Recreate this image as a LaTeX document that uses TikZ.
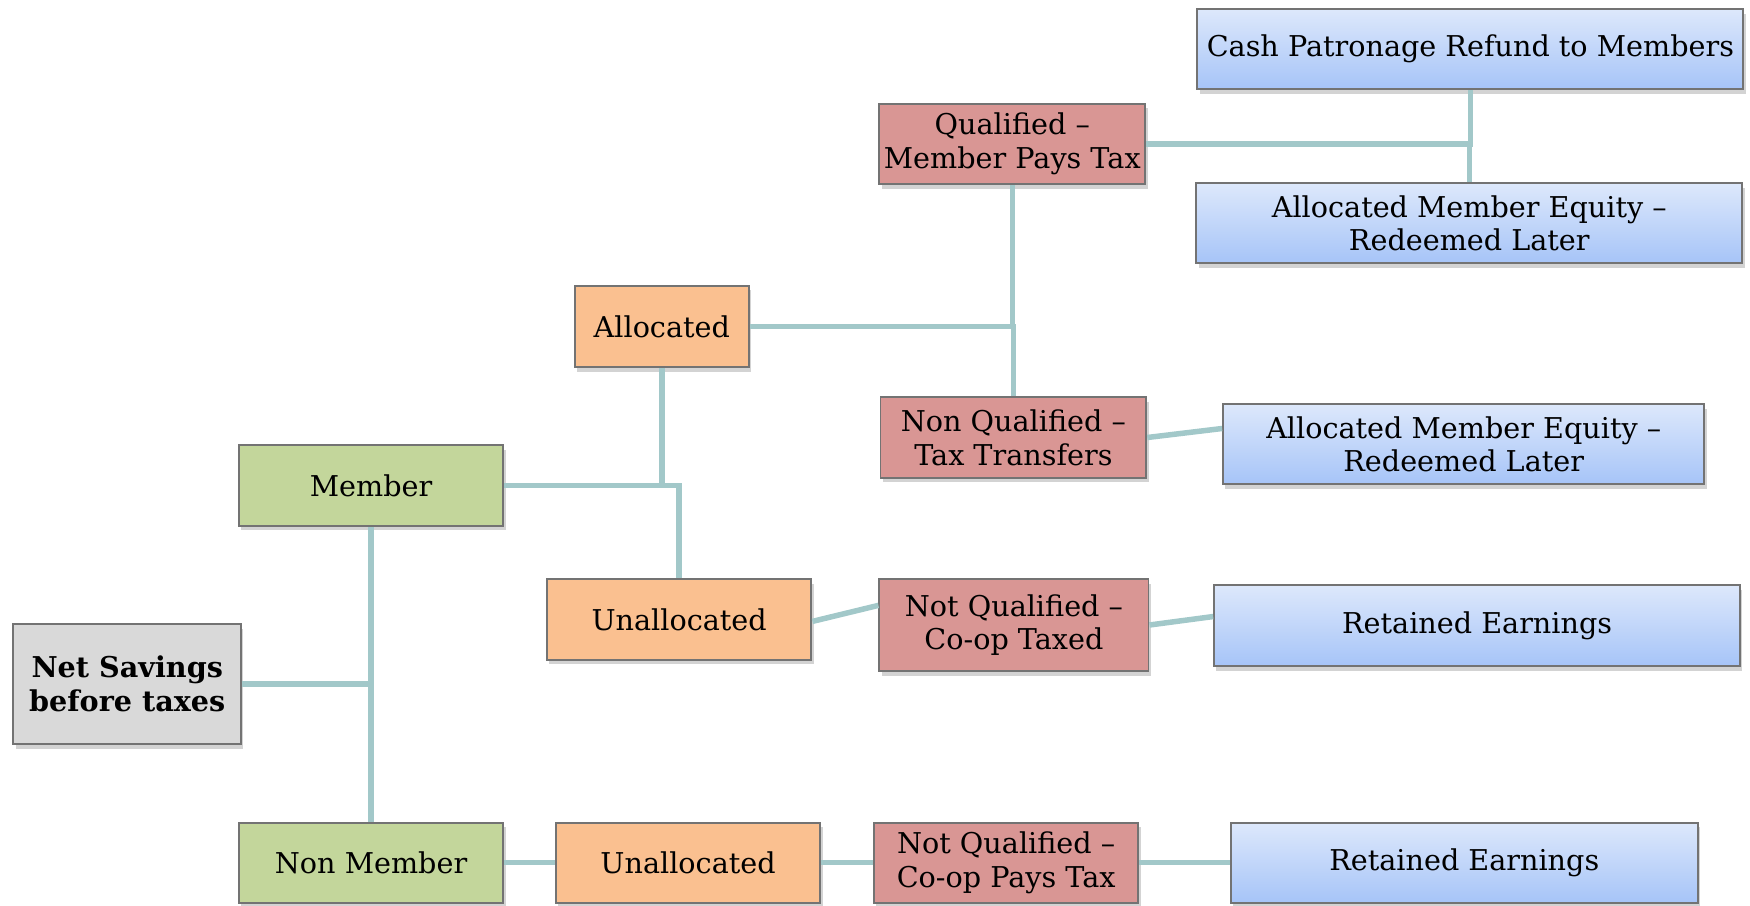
\documentclass[tikz,border=0pt]{standalone}
\usepackage{fontspec}
\setmainfont{DejaVu Serif}
\usetikzlibrary{shadows}
\definecolor{netgray}{HTML}{D9D9D9}
\definecolor{memgreen}{HTML}{C3D69B}
\definecolor{allocorange}{HTML}{FAC090}
\definecolor{qualred}{HTML}{D99694}
\definecolor{bluetop}{HTML}{DDE8FB}
\definecolor{bluebot}{HTML}{A6C4F8}
\definecolor{linkteal}{HTML}{A2C8C9}
\begin{document}
\begin{tikzpicture}[x=0.01cm, y=-0.01cm, thick,
    box/.style={rectangle, draw=black!55, line width=0.5pt, align=center, inner sep=1pt,
        minimum height=0.72cm, drop shadow={opacity=0.35, shadow xshift=0.6pt, shadow yshift=-1.2pt},
        font=\fontsize{7.3}{8.6}\selectfont},
    net box/.style={box, fill=netgray, font=\fontsize{7.3}{8.6}\selectfont\bfseries},
    member box/.style={box, fill=memgreen},
    alloc box/.style={box, fill=allocorange},
    tax box/.style={box, fill=qualred},
    result box/.style={box, top color=bluetop, bottom color=bluebot},
    link/.style={draw=linkteal, line width=1.4pt}]

    \useasboundingbox (0, 0) rectangle (1568, 811);

    \node[net box, minimum width=2.04cm, minimum height=1.08cm] at (114, 613) (net) {Net Savings\\before taxes};

    \node[member box, minimum width=2.37cm] at (332.5, 435) (mem) {Member};
    \node[member box, minimum width=2.37cm] at (332.5, 773) (nonmem) {Non Member};

    \node[alloc box, minimum width=1.56cm, minimum height=0.73cm] at (593, 292.5) (alloc) {Allocated};
    \node[alloc box, minimum width=2.37cm] at (608.5, 555) (unalloc) {Unallocated};
    \node[alloc box, minimum width=2.37cm] at (616.5, 773) (unallocnm) {Unallocated};

    \node[tax box, minimum width=2.38cm] at (907, 129) (qual) {Qualified --\\Member Pays Tax};
    \node[tax box, minimum width=2.38cm] at (908, 392) (nonqual) {Non Qualified --\\Tax Transfers};
    \node[tax box, minimum width=2.41cm, minimum height=0.82cm] at (908.5, 560) (notqual) {Not Qualified --\\Co-op Taxed};
    \node[tax box, minimum width=2.37cm] at (901.5, 773) (notqualnm) {Not Qualified --\\Co-op Pays Tax};

    \node[result box, minimum width=4.89cm] at (1317.5, 44) (cash) {Cash Patronage Refund to Members};
    \node[result box, minimum width=4.89cm] at (1316.5, 200) (equity) {Allocated Member Equity --\\Redeemed Later};
    \node[result box, minimum width=4.31cm] at (1311.5, 398) (equitynq) {Allocated Member Equity --\\Redeemed Later};
    \node[result box, minimum width=4.71cm, minimum height=0.73cm] at (1323.5, 560.5) (retained) {Retained Earnings};
    \node[result box, minimum width=4.18cm] at (1312, 773) (retainednm) {Retained Earnings};

    % tree connectors
    \draw[link] (net.east) -| (mem.south);
    \draw[link] (net.east) -| (nonmem.north);
    \draw[link] (mem.east) -| (alloc.south);
    \draw[link] (mem.east) -| (unalloc.north);
    \draw[link] (alloc.east) -| (qual.south);
    \draw[link] (alloc.east) -| (nonqual.north);
    \draw[link] (qual.east) -| (cash.south);
    \draw[link] (qual.east) -| (equity.north);

    \path[link] (nonqual.east) edge ([yshift=4pt]equitynq.west);
    \path[link] ([yshift=-0.5pt]unalloc.east) edge ([yshift=5pt]notqual.west);
    \path[link] (notqual.east) edge ([yshift=2.3pt]retained.west);

    \path[link] (nonmem) edge (unallocnm);
    \path[link] (unallocnm) edge (notqualnm);
    \path[link] (notqualnm) edge (retainednm);

\end{tikzpicture}
\end{document}
